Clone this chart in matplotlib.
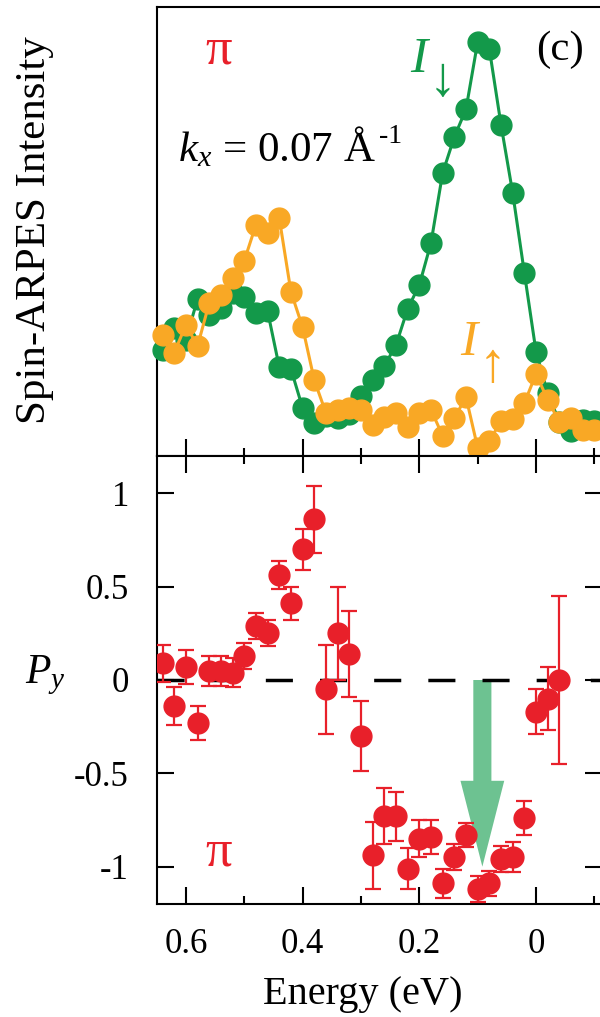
import matplotlib.pyplot as plt
from matplotlib.ticker import MultipleLocator, NullFormatter

plt.rcParams['font.family'] = ['Liberation Serif', 'DejaVu Serif']
plt.rcParams['mathtext.fontset'] = 'custom'
plt.rcParams['mathtext.rm'] = 'Liberation Serif'
plt.rcParams['mathtext.it'] = 'Liberation Serif:italic'
plt.rcParams['axes.unicode_minus'] = False

# spin-resolved EDCs (arb. units)
energy_int = [0.64, 0.62, 0.60, 0.58, 0.56, 0.54, 0.52, 0.50, 0.48, 0.46,
              0.44, 0.42, 0.40, 0.38, 0.36, 0.34, 0.32, 0.30, 0.28, 0.26,
              0.24, 0.22, 0.20, 0.18, 0.16, 0.14, 0.12, 0.10, 0.08, 0.06,
              0.04, 0.02, 0.00, -0.02, -0.04, -0.06, -0.08, -0.10]
i_down = [23.6, 28.5, 25.9, 35.0, 31.4, 33.0, 36.3, 35.4, 31.9, 32.3,
          19.8, 19.4, 10.7, 7.4, 8.9, 8.5, 9.4, 13.4, 16.9, 20.1,
          24.7, 32.8, 38.1, 47.5, 63.1, 71.1, 77.3, 92.3, 90.7, 73.8,
          58.6, 40.8, 23.2, 14.0, 7.6, 5.6, 8.0, 7.8]
i_up = [27.0, 23.0, 29.2, 24.5, 34.1, 35.9, 39.7, 43.5, 51.5, 49.7,
        53.0, 36.6, 28.7, 16.9, 9.6, 10.3, 10.7, 10.3, 6.9, 8.7,
        9.6, 6.5, 9.6, 10.3, 4.5, 8.5, 13.1, 1.8, 3.3, 7.8,
        8.2, 11.8, 18.3, 12.5, 7.6, 8.5, 5.8, 5.8]

# spin polarization P_y with error bars
energy_pol = [0.64, 0.62, 0.60, 0.58, 0.56, 0.54, 0.52, 0.50, 0.48, 0.46,
              0.44, 0.42, 0.40, 0.38, 0.36, 0.34, 0.32, 0.30, 0.28, 0.26,
              0.24, 0.22, 0.20, 0.18, 0.16, 0.14, 0.12, 0.10, 0.08, 0.06,
              0.04, 0.02, 0.00, -0.02, -0.04]
p_y = [0.09, -0.14, 0.07, -0.23, 0.05, 0.05, 0.04, 0.13, 0.29, 0.25,
       0.56, 0.41, 0.70, 0.86, -0.05, 0.25, 0.14, -0.30, -0.94, -0.73,
       -0.73, -1.01, -0.85, -0.84, -1.09, -0.95, -0.83, -1.12, -1.09, -0.96,
       -0.95, -0.74, -0.17, -0.10, 0.00]
p_err = [0.10, 0.10, 0.09, 0.09, 0.08, 0.08, 0.08, 0.07, 0.07, 0.07,
         0.075, 0.09, 0.11, 0.18, 0.24, 0.25, 0.23, 0.19, 0.18, 0.15,
         0.13, 0.11, 0.10, 0.09, 0.08, 0.07, 0.065, 0.07, 0.065, 0.07,
         0.08, 0.09, 0.12, 0.17, 0.45]

green = '#13994a'
orange = '#f9a825'
red = '#e8202a'

fig = plt.figure(figsize=(6, 10.17), dpi=100)
W, H = 600, 1017
x0, x1 = 156.7, 602
ax1 = fig.add_axes([x0 / W, 1 - 456 / H, (x1 - x0) / W, (456 - 7.3) / H])
ax2 = fig.add_axes([x0 / W, 1 - 904 / H, (x1 - x0) / W, (904 - 456) / H])

for ax in (ax1, ax2):
    ax.set_xlim(0.65, -0.113)
    ax.xaxis.set_major_locator(MultipleLocator(0.2))
    ax.xaxis.set_minor_locator(MultipleLocator(0.1))
    for s in ax.spines.values():
        s.set_linewidth(1.5)
    ax.tick_params(which='major', direction='in', length=12, width=1.5,
                   labelsize=25)
    ax.tick_params(which='minor', direction='in', length=6, width=1.5)

# top: intensities
ax1.plot(energy_int, i_down, '-o', color=green, lw=2.2, ms=15, clip_on=False, zorder=3)
ax1.plot(energy_int, i_up, '-o', color=orange, lw=2.2, ms=15, clip_on=False, zorder=4)
ax1.set_ylim(0, 100)
ax1.set_yticks([])
ax1.xaxis.set_major_formatter(NullFormatter())
ax1.tick_params(which='both', top=False)

ax1.text(0.140, 0.903, 'π', color=red, fontsize=38, ha='center', va='center',
         transform=ax1.transAxes)
ax1.text(0.906, 0.905, '(c)', fontsize=31, ha='center', va='center',
         transform=ax1.transAxes)
kx = ax1.text(0.048, 0.656, r'$k_x$ = 0.07 Å', fontsize=31,
              ha='left', va='baseline', transform=ax1.transAxes)
# superscript placed just after the label's right edge
ax1.annotate('-1', xy=(1.0, 0.62), xycoords=kx, xytext=(2, 0),
             textcoords='offset points', fontsize=20, ha='left', va='baseline')
ax1.text(0.569, 0.856, 'I', style='italic', color=green, fontsize=37,
         ha='left', va='baseline', transform=ax1.transAxes)
ax1.text(0.642, 0.805, '↓', color=green, fontsize=40,
         ha='center', va='baseline', transform=ax1.transAxes)
ax1.text(0.681, 0.225, 'I', style='italic', color=orange, fontsize=37,
         ha='left', va='baseline', transform=ax1.transAxes)
ax1.text(0.754, 0.167, '↑', color=orange, fontsize=40,
         ha='center', va='baseline', transform=ax1.transAxes)

# bottom: polarization
ax2.arrow(0.092, 0, 0, -1.0, width=0.031, head_width=0.075, head_length=0.46,
          length_includes_head=True, color='#6dc291', lw=0, zorder=1)
ax2.axhline(0, color='k', lw=2.5, dashes=(7.8, 7.8), zorder=2)
ax2.errorbar(energy_pol, p_y, yerr=p_err, fmt='o', color=red, ms=15,
             elinewidth=1.6, capsize=6, capthick=1.6, zorder=3)
ax2.set_ylim(-1.2, 1.2)
ax2.set_yticks([-1, -0.5, 0, 0.5, 1])
ax2.set_yticklabels(['-1', '-0.5', '0', '0.5', '1'])
ax2.tick_params(which='both', top=True, right=True)
ax2.tick_params(axis='x', pad=17)
ax2.tick_params(axis='y', pad=20)
ax2.xaxis.set_major_formatter(lambda v, p: '0' if abs(v) < 1e-9 else f'{v:g}')

ax2.text(0.140, 0.114, 'π', color=red, fontsize=38, ha='center', va='center',
         transform=ax2.transAxes)

fig.text(35 / W, 1 - 230 / H, 'Spin-ARPES Intensity', fontsize=31,
         rotation=90, ha='center', va='center')
fig.text(45 / W, 1 - 675 / H, r'$P_y$', fontsize=30, ha='center', va='center')
fig.text(363 / W, 1 - 1004 / H, 'Energy (eV)', fontsize=29, ha='center',
         va='baseline')

fig.savefig('out.png', dpi=100)
